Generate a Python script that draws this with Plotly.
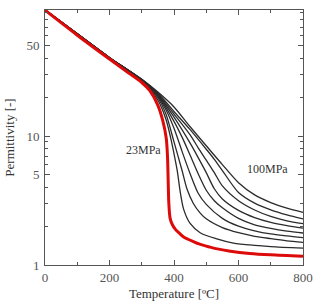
import plotly.graph_objects as go

# Red curve (23 MPa)
t_23 = [0, 100, 200, 250, 300, 325, 350, 365, 376, 380, 382, 384, 388, 395, 405, 418, 430, 460, 480, 510, 530, 575, 635, 700, 800]
e_23 = [94.5, 60.5, 39.5, 32, 26.0, 22.5, 17.3, 13.2, 9.6, 6.8, 4.4, 3.0, 2.3, 2.05, 1.88, 1.75, 1.65, 1.52, 1.45, 1.38, 1.34, 1.28, 1.23, 1.20, 1.17]

# Black curves (30 ... 100 MPa)
t_30 = [0, 100, 200, 300, 350, 375, 390, 400, 410, 420, 430, 450, 481, 530, 584, 650, 700, 800]
e_30 = [95, 62, 40.5, 26.8, 19.0, 13.5, 9.6, 7.3, 5.4, 3.6, 2.7, 2.1, 1.78, 1.6, 1.48, 1.42, 1.39, 1.35]

t_40 = [0, 100, 200, 300, 350, 375, 400, 425, 440, 460, 480, 500, 550, 600, 650, 700, 750, 800]
e_40 = [95, 62, 40.5, 27.0, 19.8, 14.8, 9.0, 5.4, 3.9, 3.0, 2.55, 2.28, 1.95, 1.78, 1.67, 1.6, 1.54, 1.50]

t_50 = [0, 100, 200, 300, 350, 375, 400, 425, 450, 475, 500, 550, 600, 650, 700, 750, 800]
e_50 = [95, 62, 40.5, 27.1, 20.3, 16.0, 11.5, 7.6, 5.1, 3.6, 2.95, 2.3, 2.0, 1.84, 1.74, 1.68, 1.63]

t_60 = [0, 100, 200, 300, 350, 400, 425, 450, 475, 500, 525, 550, 600, 650, 700, 750, 800]
e_60 = [95, 62, 40.5, 27.2, 20.7, 13.0, 9.8, 7.1, 5.1, 3.8, 3.15, 2.78, 2.3, 2.05, 1.92, 1.83, 1.77]

t_70 = [0, 100, 200, 300, 350, 400, 450, 475, 500, 525, 550, 600, 650, 700, 750, 800]
e_70 = [95, 62, 40.5, 27.3, 21.0, 14.0, 8.8, 6.8, 5.2, 3.9, 3.25, 2.65, 2.33, 2.14, 2.02, 1.93]

t_80 = [0, 100, 200, 300, 350, 400, 450, 475, 500, 525, 550, 600, 650, 700, 750, 800]
e_80 = [95, 62, 40.5, 27.4, 21.3, 14.8, 10.2, 8.1, 6.5, 5.2, 4.1, 3.15, 2.67, 2.38, 2.2, 2.09]

t_90 = [0, 100, 200, 300, 350, 400, 450, 500, 525, 550, 600, 650, 700, 750, 800]
e_90 = [95, 62, 40.5, 27.5, 21.6, 15.5, 11.2, 7.9, 6.6, 5.4, 3.65, 3.02, 2.68, 2.45, 2.28]

t_100 = [0, 100, 200, 300, 350, 400, 450, 500, 550, 600, 650, 700, 750, 800]
e_100 = [95, 62, 40.5, 27.6, 21.9, 16.8, 11.8, 8.4, 6.0, 4.35, 3.5, 3.05, 2.76, 2.56]

black_curves = [(t_30, e_30), (t_40, e_40), (t_50, e_50), (t_60, e_60),
                (t_70, e_70), (t_80, e_80), (t_90, e_90), (t_100, e_100)]

x_ticks = [0, 200, 400, 600, 800]
y_ticks = [1, 5, 10, 50]
y_minor = [2, 3, 4, 6, 7, 8, 9, 20, 30, 40, 60, 70, 80, 90]

fig = go.Figure()
for t, e in black_curves:
    fig.add_trace(go.Scatter(x=t, y=e, mode="lines",
                             line=dict(color="#2b2b2b", width=1.3, shape="spline", smoothing=0.8),
                             showlegend=False, hoverinfo="skip"))
fig.add_trace(go.Scatter(x=t_23, y=e_23, mode="lines",
                         line=dict(color="#dd0a0a", width=3, shape="spline", smoothing=0.8),
                         showlegend=False, hoverinfo="skip"))

font = "Liberation Serif, Times New Roman, serif"
fig.update_layout(
    width=313, height=301,
    margin=dict(l=45, r=10, t=10, b=36),
    paper_bgcolor="white", plot_bgcolor="white",
    font=dict(family=font, size=13, color="#444"),
    xaxis=dict(range=[0, 800], tickvals=x_ticks, ticks="inside", ticklen=5,
               tickcolor="#555", showline=True, linecolor="#555", linewidth=1,
               mirror="ticks", showgrid=False, zeroline=False, automargin=False,
               minor=dict(dtick=100, ticks="inside", ticklen=3, tickcolor="#555", showgrid=False),
               title=dict(text="Temperature [ºC]", font=dict(size=13, color="#333"), standoff=6),
               tickfont=dict(size=13, color="#555")),
    yaxis=dict(type="log", range=[0, 1.977], tickvals=y_ticks, ticks="inside", ticklen=5,
               tickcolor="#555", showline=True, linecolor="#555", linewidth=1,
               mirror="ticks", showgrid=False, zeroline=False, automargin=False,
               ticklabelstandoff=2,
               minor=dict(tickvals=y_minor, ticks="inside", ticklen=3, tickcolor="#555", showgrid=False),
               title=dict(text="Permittivity [-]", font=dict(size=13, color="#333"), standoff=8),
               tickfont=dict(size=13, color="#555")),
)
fig.add_annotation(x=366, y=0.891, xref="x", yref="y", text="23MPa", showarrow=False,
                   xanchor="right", font=dict(family=font, size=12, color="#333"))
fig.add_annotation(x=690, y=0.744, xref="x", yref="y", text="100MPa", showarrow=False,
                   font=dict(family=font, size=12, color="#333"))
fig.write_html("out.html")
